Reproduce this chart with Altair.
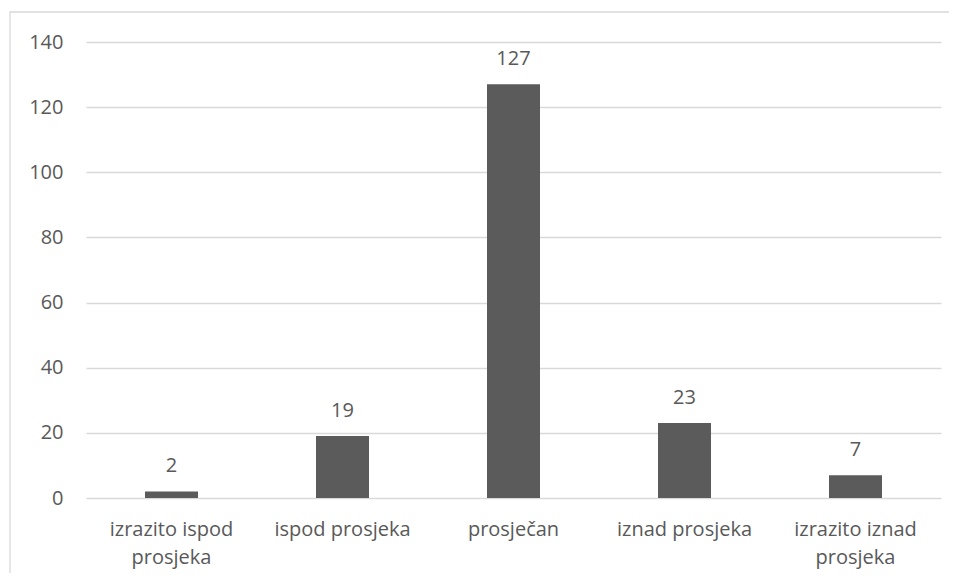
import altair as alt
import pandas as pd

categories = ["izrazito ispod prosjeka", "ispod prosjeka", "prosječan", "iznad prosjeka", "izrazito iznad prosjeka"]
values = [2, 19, 127, 23, 7]
y_ticks = [0, 20, 40, 60, 80, 100, 120, 140]

df = pd.DataFrame({"kategorija": categories, "broj": values})

FONT = "Open Sans"
TXT = "#595959"
BAR = "#5b5b5b"
GRID = "#d9d9d9"

x_enc = alt.X(
    "kategorija:N",
    sort=categories,
    title=None,
    scale=alt.Scale(paddingInner=0.69, paddingOuter=0.345),
    axis=alt.Axis(
        labelAngle=0,
        domain=False,
        ticks=False,
        tickSize=0,
        grid=False,
        labelPadding=21,
        labelFont=FONT,
        labelFontSize=20,
        labelColor=TXT,
        labelLineHeight=28,
        labelLimit=300,
        labelExpr="indexof(datum.label, 'izrazito') == 0 ? [slice(datum.label, 0, lastindexof(datum.label, ' ')), slice(datum.label, lastindexof(datum.label, ' ') + 1)] : datum.label",
    ),
)

y_enc = alt.Y(
    "broj:Q",
    title=None,
    scale=alt.Scale(domain=[0, 140], nice=False),
    axis=alt.Axis(
        values=y_ticks,
        domain=False,
        ticks=False,
        tickSize=0,
        grid=True,
        gridColor=GRID,
        gridWidth=1.3,
        labelPadding=23,
        labelFont=FONT,
        labelFontSize=20,
        labelColor=TXT,
    ),
)

border = alt.Chart(pd.DataFrame({"a": [0]})).mark_rect(
    fill=None, stroke=GRID, strokeWidth=1.3, clip=False
).encode(
    x=alt.value(-76), x2=alt.value(900), y=alt.value(-30), y2=alt.value(600)
)

bars = alt.Chart(df).mark_bar(color=BAR).encode(x=x_enc, y=y_enc)

labels = alt.Chart(df).mark_text(
    font=FONT, fontSize=20, color=TXT, baseline="alphabetic", dy=-19
).encode(
    x=alt.X("kategorija:N", sort=categories),
    y=alt.Y("broj:Q"),
    text=alt.Text("broj:Q"),
)

chart = alt.layer(border, bars, labels).properties(
    width=855,
    height=456,
    background="white",
    autosize=alt.AutoSizeParams(type="none"),
    padding={"left": 78, "top": 34, "right": 8, "bottom": 75},
).configure_view(stroke=None)

chart.save("out.html", embed_options={"renderer": "svg", "actions": False})
